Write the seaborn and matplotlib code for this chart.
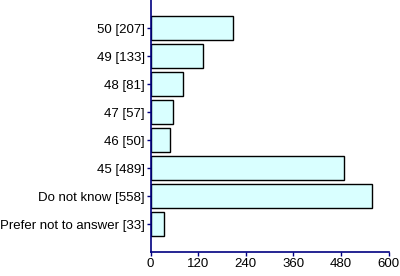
import matplotlib
matplotlib.use("Agg")
import matplotlib.pyplot as plt
import seaborn as sns
import pandas as pd

categories = ["50 [207]", "49 [133]", "48 [81]", "47 [57]", "46 [50]", "45 [489]", "Do not know [558]", "Prefer not to answer [33]"]
values = [207, 133, 81, 57, 50, 489, 558, 33]
xticks = [0, 120, 240, 360, 480, 600]

sns.set_style("white")
plt.rcParams['font.family'] = ['Liberation Sans', 'DejaVu Sans']

df = pd.DataFrame({"cat": categories, "val": values})
fig = plt.figure(figsize=(4, 2.76), dpi=100)
ax = fig.add_axes([150.5/400, 1 - 252/276, (388.5 - 150.5)/400, 252/276])
sns.barplot(data=df, x="val", y="cat", orient="h", color="#D9FFFF", edgecolor="black",
            linewidth=1.0, width=0.88, saturation=1, ax=ax)
ax.set_xlim(0, 600)
ax.set_ylim(8, -1)
ax.set_xticks(xticks)
ax.set_xticklabels([str(t) for t in xticks])
ax.set_xlabel("")
ax.set_ylabel("")
for s in ["top", "right"]:
    ax.spines[s].set_visible(False)
for s in ["left", "bottom"]:
    ax.spines[s].set_color("#000080")
    ax.spines[s].set_linewidth(1.2)
ax.tick_params(axis="both", which="both", length=3, width=1, color="#000080",
               labelsize=9.5, labelcolor="black", pad=1, direction="out")
ax.tick_params(left=True, bottom=True)
fig.savefig("out.png", dpi=100)
